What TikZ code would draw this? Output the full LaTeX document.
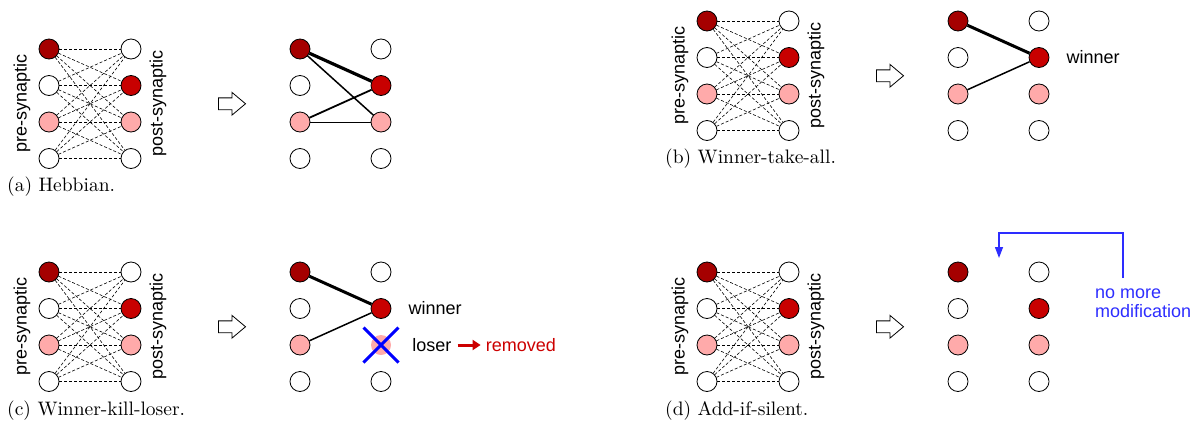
\documentclass[tikz,border=0pt]{standalone}
\usepackage{fontspec}
\newfontfamily\sans{Liberation Sans}
\newfontfamily\capfont{lmroman10-regular}[Extension=.otf]
\usetikzlibrary{positioning,shapes.arrows,shapes.misc,arrows.meta}

\definecolor{oscuro}{RGB}{165,0,0}
\definecolor{rojo}{RGB}{200,0,0}
\definecolor{rosa}{RGB}{255,170,170}
\definecolor{azul}{RGB}{45,45,255}
\definecolor{carmin}{RGB}{204,0,0}

\tikzset{
  neurona/.style={circle,draw,line width=.8pt,minimum size=20pt,inner sep=0pt,fill=white},
  perdida/.style={circle,minimum size=20pt,inner sep=0pt,fill=rosa!75},
  sinapsis/.style={dash pattern=on 3pt off 2pt,line width=.6pt},
  texto/.style={font=\sans\fontsize{18}{19}\selectfont,inner sep=1pt},
  pie/.style={font=\capfont\fontsize{19.5}{21}\selectfont,anchor=west,inner sep=0pt},
  hueca/.style={single arrow,draw,line width=.8pt,minimum height=27pt,inner xsep=0pt,
    inner ysep=5.5pt,single arrow head extend=5.5pt,single arrow tip angle=80},
  aviso/.style={azul,line width=1.3pt,-{Triangle[length=11pt,width=8pt]}},
}

% red antes del aprendizaje
\newcommand{\redinicial}{%
  \foreach \i/\c in {1/oscuro,2/white,3/rosa,4/white}
    \node[neurona,fill=\c] (pre\i) at (0,{(\i-1)*36.5}) {};
  \foreach \i/\c in {1/white,2/rojo,3/rosa,4/white}
    \node[neurona,fill=\c] (post\i) at (82,{(\i-1)*36.5}) {};
  \foreach \i in {1,...,4}
    \foreach \j in {1,...,4}
      \draw[sinapsis] (pre\i) -- (post\j);
  \node[texto,rotate=90] (lpre) at (-27,54.75) {pre-synaptic};
  \node[texto,rotate=90] (lpost) at (109,54.75) {post-synaptic};
  \node[hueca] (flecha) at (179.5,54.75) {};
}
% red despues (#1: estilo de la tercera postsinaptica)
\newcommand{\redfinal}[1][neurona]{%
  \foreach \i/\c in {1/oscuro,2/white,3/rosa,4/white}
    \node[neurona,fill=\c] (npre\i) at (251,{(\i-1)*36.5}) {};
  \foreach \i/\c in {1/white,2/rojo,4/white}
    \node[neurona,fill=\c] (npost\i) at (332,{(\i-1)*36.5}) {};
  \node[#1,fill=rosa] (npost3) at (332,73) {};
}

\begin{document}
\begin{tikzpicture}[x=1pt,y=-1pt]
\useasboundingbox (0,0) rectangle (1192,426);
% (a) Hebbian
\begin{scope}[shift={(49,49)},name prefix=a-]
  \redinicial
  \redfinal
  \draw[line width=3.2pt] (npre1) -- (npost2);
  \draw[line width=1.5pt] (npre1) -- (npost3);
  \draw[line width=1.8pt] (npre3) -- (npost2);
  \draw[line width=.9pt] (npre3) -- (npost3);
  \node[pie] (pie) at (-42,138) {(a) Hebbian.};
\end{scope}
% (b) el ganador se lo lleva todo
\begin{scope}[shift={(707,21)},name prefix=b-]
  \redinicial
  \redfinal
  \draw[line width=3pt] (npre1) -- (npost2);
  \draw[line width=1.5pt] (npre3) -- (npost2);
  \node[texto,right=16pt of npost2] (ganador) {winner};
  \node[pie] (pie) at (-42,138) {(b) Winner-take-all.};
\end{scope}
% (c) el ganador elimina al perdedor
\begin{scope}[shift={(49,272)},name prefix=c-]
  \redinicial
  \redfinal[perdida]
  \draw[line width=3pt] (npre1) -- (npost2);
  \draw[line width=1.5pt] (npre3) -- (npost2);
  \node[cross out,draw=blue,line width=3pt,minimum size=32pt,inner sep=0pt] (cruz) at (npost3) {};
  \node[texto,right=16pt of npost2] (ganador) {winner};
  \node[texto,right=20pt of npost3] (perdedor) {loser};
  \node[texto,text=carmin,right=32pt of perdedor] (eliminado) {removed};
  \draw[carmin,line width=3pt,-{Triangle[length=8pt,width=10pt]},shorten <=5pt,shorten >=4pt]
    (perdedor.east) -- (eliminado.west);
  \node[pie] (pie) at (-42,139) {(c) Winner-kill-loser.};
\end{scope}
% (d) anadir si esta en silencio
\begin{scope}[shift={(707,272)},name prefix=d-]
  \redinicial
  \redfinal
  \node[texto,text=azul,align=left,anchor=west] (nomas) at (387,31.5) {no more\\modification};
  \coordinate (ini) at (416,6);
  \coordinate (fin) at (292,-14);
  \draw[aviso] (ini) |- ([yshift=25pt]fin) -- (fin);
  \node[pie] (pie) at (-42,139) {(d) Add-if-silent.};
\end{scope}
\end{tikzpicture}
\end{document}
